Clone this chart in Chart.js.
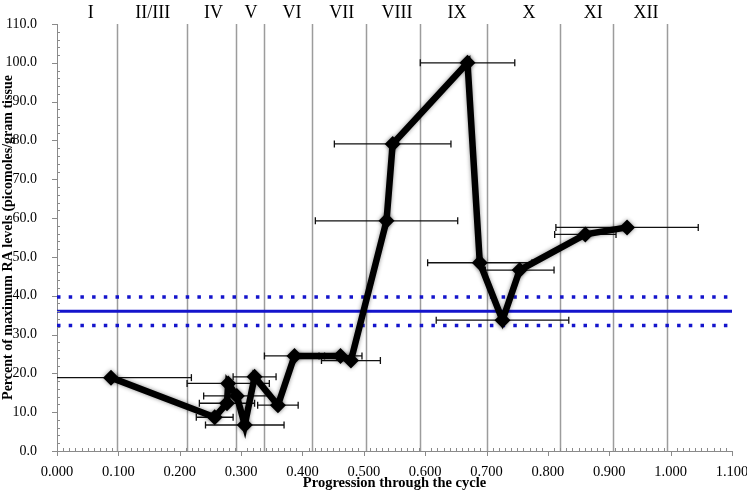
<!DOCTYPE html>
<html>
<head>
<meta charset="utf-8">
<script src="https://cdn.jsdelivr.net/npm/chart.js@4.4.1/dist/chart.umd.min.js"></script>
<style>
  html, body { margin: 0; padding: 0; background: #fff; }
  #wrap { width: 747px; height: 493px; position: relative; }
</style>
</head>
<body>
<div id="wrap"><canvas id="c"></canvas></div>
<script>
// RA levels through the cycle
const progress    = [0.088, 0.257, 0.277, 0.279, 0.293, 0.306, 0.322, 0.360, 0.387, 0.462, 0.479, 0.537, 0.547, 0.669, 0.689, 0.726, 0.754, 0.861, 0.929];
const raLevel     = [18.9, 8.7, 12.3, 17.4, 14.2, 6.7, 19.1, 11.8, 24.5, 24.5, 23.3, 59.3, 79.1, 100.0, 48.5, 33.7, 46.6, 55.8, 57.6];
const progressErr = [0.131, 0.030, 0.045, 0.067, 0.054, 0.064, 0.035, 0.033, 0.049, 0.035, 0.048, 0.116, 0.095, 0.077, 0.085, 0.108, 0.056, 0.050, 0.116];

// stages of the cycle
const stageNames  = ['I', 'II/III', 'IV', 'V', 'VI', 'VII', 'VIII', 'IX', 'X', 'XI', 'XII'];
const stageBounds = [0.098, 0.212, 0.291, 0.337, 0.415, 0.503, 0.591, 0.701, 0.820, 0.906, 0.994];
const stageLabelX = [0.055, 0.156, 0.255, 0.316, 0.383, 0.464, 0.554, 0.652, 0.769, 0.874, 0.960];

// mean level and its limits
const meanLevel  = 36.0;
const upperLimit = 39.7;
const lowerLimit = 32.3;

const xRange = [0, 1.1];
const yRange = [0, 110];

const SERIF = "'Liberation Serif', 'Times New Roman', serif";
const BLUE = '#1414cc';
const AXIS = '#8a8a8a';

const flat = v => [{ x: xRange[0], y: v }, { x: xRange[1], y: v }];

const decor = {
  id: 'decor',
  beforeDatasetsDraw(chart) {
    const { ctx, chartArea: a, scales: { x, y } } = chart;
    ctx.save();
    // stage boundaries
    ctx.strokeStyle = '#9c9c9c';
    ctx.lineWidth = 1.5;
    stageBounds.forEach(b => {
      const px = Math.round(x.getPixelForValue(b)) + 0.5;
      ctx.beginPath(); ctx.moveTo(px, a.top); ctx.lineTo(px, a.bottom); ctx.stroke();
    });
    // horizontal error bars
    ctx.strokeStyle = '#111';
    ctx.lineWidth = 1.3;
    progress.forEach((p, i) => {
      const py = y.getPixelForValue(raLevel[i]);
      const lo = Math.max(p - progressErr[i], xRange[0]);
      const hi = p + progressErr[i];
      const x0 = x.getPixelForValue(lo), x1 = x.getPixelForValue(hi);
      ctx.beginPath(); ctx.moveTo(x0, py); ctx.lineTo(x1, py); ctx.stroke();
      ctx.beginPath();
      if (lo > xRange[0]) { ctx.moveTo(x0, py - 3.5); ctx.lineTo(x0, py + 3.5); }
      ctx.moveTo(x1, py - 3.5); ctx.lineTo(x1, py + 3.5);
      ctx.stroke();
    });
    ctx.restore();
  },
  beforeDatasetDraw(chart, args) {
    if (args.index !== 0) return;
    const ctx = chart.ctx;
    ctx.save();
    ctx.shadowColor = 'rgba(0,0,0,0.45)';
    ctx.shadowBlur = 4;
  },
  afterDatasetDraw(chart, args) {
    if (args.index !== 0) return;
    chart.ctx.restore();
  },
  afterDraw(chart) {
    const { ctx, chartArea: a, scales: { x, y } } = chart;
    ctx.save();
    // axis tick marks: major outward, minor inward
    ctx.strokeStyle = AXIS;
    ctx.lineWidth = 1;
    ctx.beginPath();
    for (let i = 0; i <= 110; i++) {
      const px = Math.round(x.getPixelForValue(i / 100)) + 0.5;
      if (i % 10 === 0) { ctx.moveTo(px, a.bottom); ctx.lineTo(px, a.bottom + 5); }
      else { ctx.moveTo(px, a.bottom); ctx.lineTo(px, a.bottom - 3); }
    }
    for (let v = 0; v <= 110; v += 2) {
      const py = Math.round(y.getPixelForValue(v)) + 0.5;
      if (v % 10 === 0) { ctx.moveTo(a.left, py); ctx.lineTo(a.left - 5, py); }
      else { ctx.moveTo(a.left, py); ctx.lineTo(a.left + 3, py); }
    }
    ctx.stroke();
    // stage names along the top
    ctx.fillStyle = '#000';
    ctx.font = '18px ' + SERIF;
    ctx.textAlign = 'center';
    ctx.textBaseline = 'middle';
    stageNames.forEach((n, i) => ctx.fillText(n, x.getPixelForValue(stageLabelX[i]), 13));
    ctx.restore();
  }
};

new Chart(document.getElementById('c'), {
  type: 'scatter',
  data: {
    datasets: [
      {
        data: progress.map((p, i) => ({ x: p, y: raLevel[i] })),
        showLine: true,
        borderColor: '#000',
        borderWidth: 6.5,
        backgroundColor: '#000',
        pointStyle: 'rectRot',
        pointRadius: 8,
        pointBorderWidth: 0,
        order: 0
      },
      { data: flat(meanLevel),  showLine: true, borderColor: BLUE, borderWidth: 3, pointRadius: 0, order: 1 },
      { data: flat(upperLimit), showLine: true, borderColor: BLUE, borderWidth: 3.5, borderDash: [3.5, 8.2], pointRadius: 0, order: 2 },
      { data: flat(lowerLimit), showLine: true, borderColor: BLUE, borderWidth: 3.5, borderDash: [3.5, 8.2], pointRadius: 0, order: 3 }
    ]
  },
  options: {
    responsive: true,
    maintainAspectRatio: false,
    animation: false,
    layout: { padding: { top: 24, right: 15, left: 0, bottom: 0 } },
    plugins: { legend: { display: false }, tooltip: { enabled: false } },
    scales: {
      x: {
        type: 'linear',
        min: xRange[0], max: xRange[1],
        grid: { display: false },
        border: { display: true, color: AXIS, width: 1 },
        ticks: { stepSize: 0.1, padding: 4, color: '#000', font: { family: SERIF, size: 14.5 }, callback: v => v.toFixed(3), maxRotation: 0 },
        title: { display: true, text: 'Progression through the cycle', color: '#000', font: { family: SERIF, size: 14.5, weight: 'bold' }, padding: { top: 0, bottom: 1 } },
        afterFit: s => { s.height = 42; s.paddingLeft = 0; s.paddingRight = 0; }
      },
      y: {
        min: yRange[0], max: yRange[1],
        grid: { display: false },
        border: { display: true, color: AXIS, width: 1 },
        ticks: { stepSize: 10, padding: 12, color: '#000', font: { family: SERIF, size: 14 }, callback: v => v.toFixed(1) },
        title: { display: true, text: 'Percent of maximum RA levels (picomoles/gram tissue', color: '#000', font: { family: SERIF, size: 14, weight: 'bold' }, padding: { top: 0, bottom: 0 } },
        afterFit: s => { s.width = 57; s.paddingTop = 0; s.paddingBottom = 0; }
      }
    }
  },
  plugins: [decor]
});
</script>
</body>
</html>
